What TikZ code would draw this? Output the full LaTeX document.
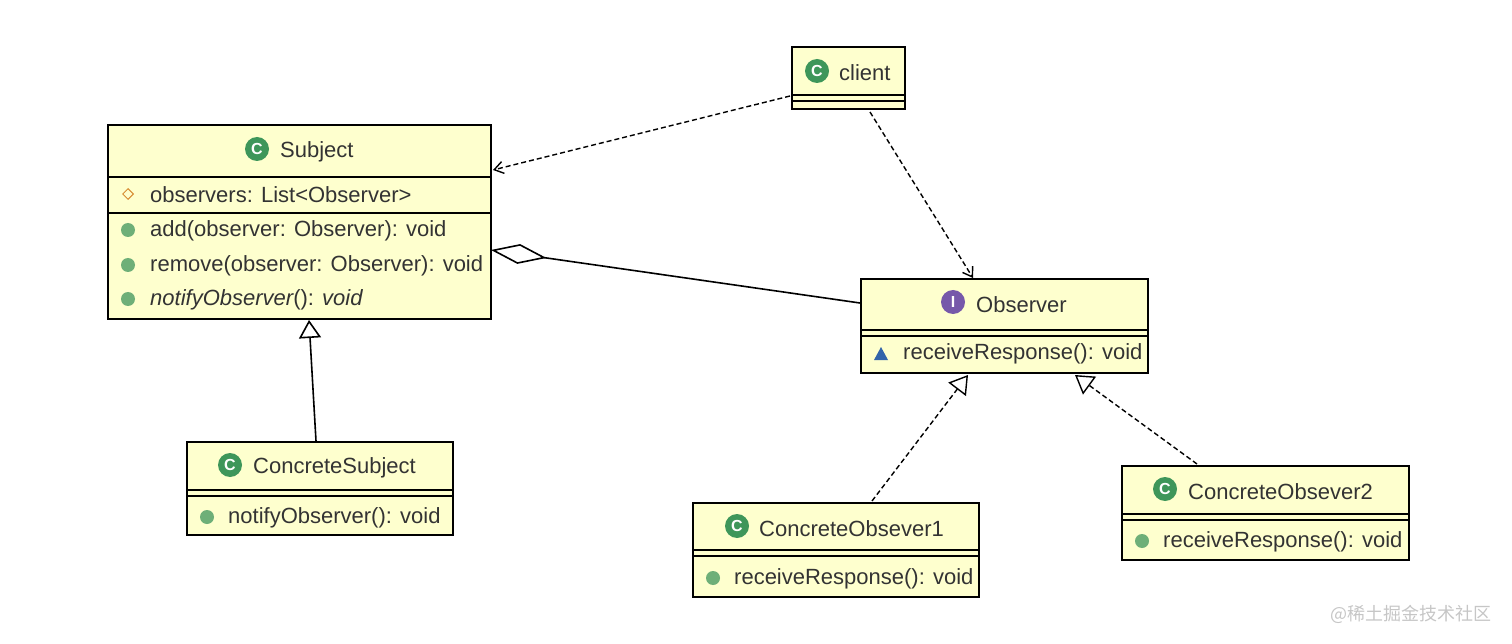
\documentclass[tikz,border=0pt]{standalone}
\usepackage{fontspec}
\setmainfont{Liberation Sans}
\newfontfamily\cjk{Noto Sans CJK SC}
\usetikzlibrary{calc, arrows.meta, shapes.geometric}
\definecolor{cls}{RGB}{254, 255, 206}
\definecolor{ic}{RGB}{62, 150, 90}
\definecolor{ii}{RGB}{118, 88, 170}
\definecolor{dot}{RGB}{110, 175, 120}
\definecolor{fld}{RGB}{215, 140, 50}
\definecolor{tri}{RGB}{50, 100, 170}
\definecolor{t}{HTML}{333333}

\tikzset{
    box/.style={draw=black, line width=2pt, fill=cls},
    sep/.style={line width=1.6pt},
    txt/.style={anchor=west, inner sep=0pt, text=t, font=\fontsize{22}{24}\selectfont},
    dep/.style={dash pattern=on 5pt off 3pt, line width=1.4pt, -{Straight Barb[length=9pt, width=12pt]}},
    real/.style={dash pattern=on 5pt off 3pt, line width=1.4pt, -{Triangle[open, length=18pt, width=22pt, fill=white]}},
    gen/.style={line width=1.6pt, -{Triangle[open, length=18pt, width=22pt, fill=white]}},
    agg/.style={line width=1.6pt, {Diamond[open, length=56pt, width=20pt, fill=white]}-}
}
\newcommand{\cicon}[2]{\fill[ic] (#1,#2) circle (12); \node[text=white, font=\bfseries\fontsize{16}{16}\selectfont] at (#1,#2) {C};}
\newcommand{\mdot}[2]{\fill[dot] (#1,#2) circle (7);}

\begin{document}
\begin{tikzpicture}[x=1pt, y=-1pt]
    \useasboundingbox (0,0) rectangle (1512,644);

    % Boxes
    \draw[box] (792,47) rectangle (905,109);
    \coordinate (client) at (848,78);
    \draw[box] (108,125) rectangle (491,319);
    \coordinate (subject) at (300,222);
    \draw[box] (187,442) rectangle (453,535);
    \coordinate (csubject) at (320,488);
    \draw[box] (861,279) rectangle (1148,373);
    \coordinate (observer) at (1004,326);
    \draw[box] (693,503) rectangle (979,597);
    \coordinate (cobs1) at (836,550);
    \draw[box] (1122,466) rectangle (1409,560);
    \coordinate (cobs2) at (1265,513);

    % Compartment lines
    \draw[sep] (792,95) -- (905,95) (792,101) -- (905,101);
    \draw[sep] (108,177) -- (491,177) (108,213) -- (491,213);
    \draw[sep] (187,490) -- (453,490) (187,496) -- (453,496);
    \draw[sep] (861,330) -- (1148,330) (861,336) -- (1148,336);
    \draw[sep] (693,550) -- (979,550) (693,556) -- (979,556);
    \draw[sep] (1122,514) -- (1409,514) (1122,520) -- (1409,520);

    % client
    \cicon{817}{71}
    \node[txt] at (839,73) {client};

    % Subject
    \cicon{257}{149}
    \node[txt] at (280,152) {Subject};
    \node[draw=fld, line width=1pt, diamond, inner sep=0pt, minimum size=11pt] at (128,194) {};
    \node[txt] at (150,195) {observers: List<Observer>};
    \mdot{128}{230} \node[txt] at (150,231) {add(observer: Observer): void};
    \mdot{128}{265} \node[txt] at (150,266) {remove(observer: Observer): void};
    \mdot{128}{299} \node[txt] at (150,300) {\itshape notifyObserver\upshape(): \itshape void};

    % ConcreteSubject
    \cicon{230}{465}
    \node[txt] at (253,468) {ConcreteSubject};
    \mdot{207}{517} \node[txt] at (228,518) {notifyObserver(): void};

    % Observer
    \fill[ii] (953,302) circle (12);
    \node[text=white, font=\bfseries\fontsize{16}{16}\selectfont] at (953,302) {I};
    \node[txt] at (976,305) {Observer};
    \fill[tri] (874,360) -- (888,360) -- (881,347) -- cycle;
    \node[txt] at (903,354) {receiveResponse(): void};

    % ConcreteObsever1
    \cicon{737}{526}
    \node[txt] at (759,529) {ConcreteObsever1};
    \mdot{713}{578} \node[txt] at (734,579) {receiveResponse(): void};

    % ConcreteObsever2
    \cicon{1165}{489}
    \node[txt] at (1188,492) {ConcreteObsever2};
    \mdot{1142}{541} \node[txt] at (1163,542) {receiveResponse(): void};

    % Connectors
    \draw[dep] ($(client)+(-58,18)$) -- ($(subject)+(193,-52)$);
    \draw[dep] ($(client)+(22,34)$) -- ($(observer)+(-31,-48)$);
    \draw[agg] ($(subject)+(191,28)$) -- ($(observer)+(-144,-23)$);
    \draw[gen] ($(csubject)+(-4,-47)$) -- ($(subject)+(9,98)$);
    \draw[real] ($(cobs1)+(36,-49)$) -- ($(observer)+(-36,49)$);
    \draw[real] ($(cobs2)+(-68,-49)$) -- ($(observer)+(71,49)$);

    % Watermark
    \node[anchor=east, text=white!55!gray, font=\cjk\fontsize{18}{20}\selectfont] at (1495,614) {@稀土掘金技术社区};
\end{tikzpicture}
\end{document}
